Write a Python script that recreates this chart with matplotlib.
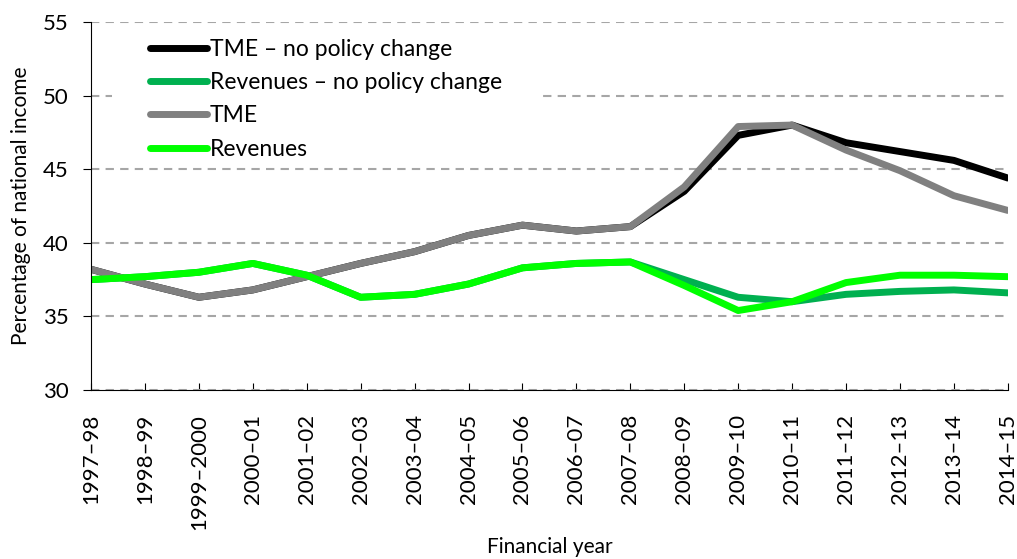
import numpy as np
import matplotlib.pyplot as plt
from matplotlib.patches import Rectangle

# --- Data ---
years = ["1997–98", "1998–99", "1999–2000", "2000–01", "2001–02", "2002–03",
         "2003–04", "2004–05", "2005–06", "2006–07", "2007–08", "2008–09",
         "2009–10", "2010–11", "2011–12", "2012–13", "2013–14", "2014–15"]

tme_npc = [38.2, 37.2, 36.3, 36.8, 37.7, 38.6, 39.4, 40.5, 41.2, 40.8, 41.1,
           43.5, 47.3, 48.0, 46.8, 46.2, 45.6, 44.4]
rev_npc = [37.5, 37.7, 38.0, 38.6, 37.8, 36.3, 36.5, 37.2, 38.3, 38.6, 38.7,
           37.5, 36.3, 36.0, 36.5, 36.7, 36.8, 36.6]
tme = [38.2, 37.2, 36.3, 36.8, 37.7, 38.6, 39.4, 40.5, 41.2, 40.8, 41.1,
       43.8, 47.9, 48.0, 46.3, 44.9, 43.2, 42.2]
rev = [37.5, 37.7, 38.0, 38.6, 37.8, 36.3, 36.5, 37.2, 38.3, 38.6, 38.7,
       37.1, 35.4, 36.0, 37.3, 37.8, 37.8, 37.7]

plt.rcParams['font.family'] = ['Lato', 'DejaVu Sans']

fig = plt.figure(figsize=(10.17, 5.59), dpi=100)
ax = fig.add_axes([0.0895, 0.3023, 0.9015, 0.6583])

x = np.arange(len(years))
lw = 5
ax.plot(x, tme_npc, color='black', lw=lw, label="TME – no policy change", solid_capstyle='round')
ax.plot(x, rev_npc, color='#00b050', lw=lw, label="Revenues – no policy change", solid_capstyle='round')
ax.plot(x, tme, color='#808080', lw=lw, label="TME", solid_capstyle='round')
ax.plot(x, rev, color='#00ff00', lw=lw, label="Revenues", solid_capstyle='round')

ax.set_xlim(0, len(years) - 1)
ax.set_ylim(30, 55)
ax.set_yticks([30, 35, 40, 45, 50, 55])
ax.set_xticks(x)
ax.set_xticklabels(years, rotation=90, fontsize=16)
ax.tick_params(axis='y', labelsize=16, direction='out', length=6, pad=10)
ax.tick_params(axis='x', direction='in', length=5, pad=17)

ax.yaxis.grid(True, linestyle=(0, (4, 3)), color='#a6a6a6', lw=1.5)
ax.set_axisbelow(True)
for s in ['top', 'right']:
    ax.spines[s].set_visible(False)

# white box behind the legend (hides the gridline underneath)
ax.add_patch(Rectangle((0.023, 0.617), 0.467, 0.367, transform=ax.transAxes,
                       facecolor='white', edgecolor='none', zorder=1))

ax.set_ylabel("Percentage of national income", fontsize=15)
ax.yaxis.set_label_coords(-0.066, 0.5)
fig.text(0.541, 0.022, "Financial year", fontsize=15, ha='center', va='center')

leg = ax.legend(loc='upper left', bbox_to_anchor=(0.064, 0.955), fontsize=16.5,
                frameon=False, handlelength=2.5, handletextpad=0.12,
                labelspacing=0.54, borderpad=0, borderaxespad=0)
leg.set_zorder(5)
for line in leg.get_lines():
    line.set_solid_capstyle('round')

fig.savefig("out.png", dpi=100)
